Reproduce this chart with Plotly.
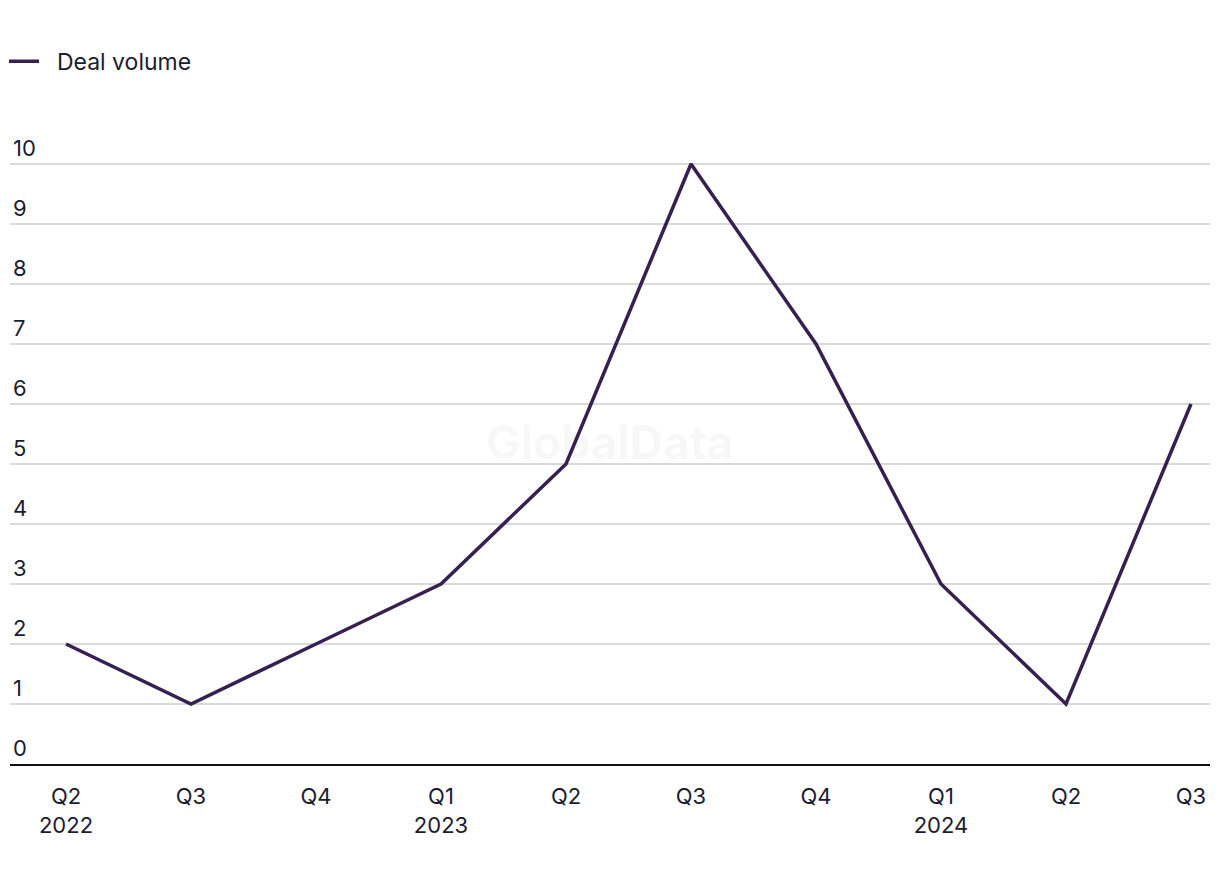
import plotly.graph_objects as go

quarters = ["Q2<br>2022", "Q3", "Q4", "Q1<br>2023", "Q2", "Q3", "Q4", "Q1<br>2024", "Q2", "Q3"]
deal_volume = [2, 1, 2, 3, 5, 10, 7, 3, 1, 6]
y_ticks = [0, 1, 2, 3, 4, 5, 6, 7, 8, 9, 10]

x_idx = list(range(len(quarters)))
font_family = "Inter, Liberation Sans, sans-serif"
text_color = "#1c1c2e"

fig = go.Figure()
fig.add_trace(go.Scatter(
    x=x_idx, y=deal_volume, mode="lines", name="\u00a0\u00a0Deal volume",
    line=dict(color="#35204f", width=3.5),
))

fig.update_layout(
    width=1220, height=884,
    margin=dict(l=10, r=10, t=128, b=120, autoexpand=False),
    paper_bgcolor="white", plot_bgcolor="white",
    font=dict(family=font_family, size=22, color=text_color),
    showlegend=True,
    legend=dict(x=-0.005, y=1.105, xanchor="left", yanchor="middle",
                font=dict(size=23, color=text_color), itemwidth=30,
                bgcolor="rgba(0,0,0,0)"),
    xaxis=dict(
        range=[-0.448, 9.152], tickmode="array", tickvals=x_idx, ticktext=quarters,
        showgrid=False, zeroline=False, showline=True, linecolor="#111111", linewidth=2,
        ticks="outside", ticklen=12, tickcolor="rgba(0,0,0,0)", automargin=False,
        tickfont=dict(size=22, color=text_color),
    ),
    yaxis=dict(
        range=[0, 10.6], tickmode="array", tickvals=y_ticks,
        showgrid=True, gridcolor="#d9d9d9", gridwidth=1.5, automargin=False,
        zeroline=False, showline=False, ticks="",
        ticklabelposition="inside top",
        tickfont=dict(size=22, color=text_color),
    ),
    annotations=[dict(
        text="<b>GlobalData</b>", x=0.5, y=0.506, xref="paper", yref="paper",
        showarrow=False, font=dict(size=46, color="rgba(0,0,0,0.035)", family=font_family),
    )],
)

fig.write_html("out.html", config={"displayModeBar": False},
               post_script="document.body.style.margin='0';")
